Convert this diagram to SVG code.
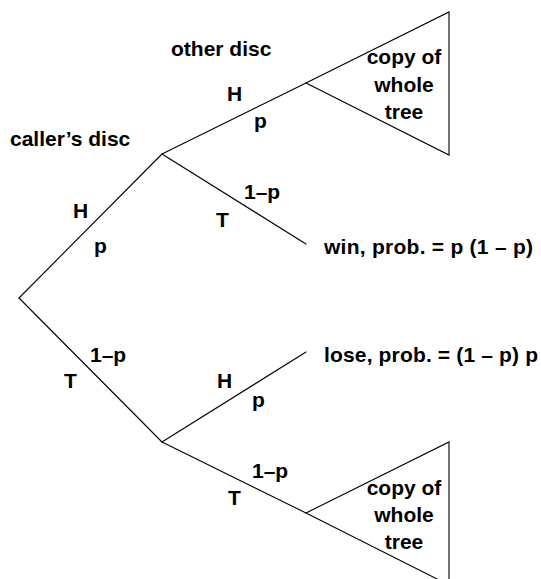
<svg xmlns="http://www.w3.org/2000/svg" width="541" height="579" viewBox="0 0 541 579">
  <style>
    .e { stroke: #000; stroke-width: 1.1; fill: none; stroke-linecap: round; }
    text { font-family: "Liberation Sans", Arial, sans-serif; font-weight: bold; font-size: 21px; fill: #000; }
    .m { text-anchor: middle; }
  </style>
  <rect width="541" height="579" fill="#fff"/>
  <g id="connectors">
    <line class="e" x1="19" y1="298" x2="162" y2="154"/>
    <line class="e" x1="19" y1="298" x2="162" y2="442"/>
    <line class="e" x1="162" y1="154" x2="306" y2="83"/>
    <line class="e" x1="162" y1="154" x2="306" y2="244"/>
    <line class="e" x1="162" y1="442" x2="306" y2="352"/>
    <line class="e" x1="162" y1="442" x2="306" y2="513"/>
  </g>
  <g id="subtree-top">
    <polygon class="e" points="306,83 449,12 449,155"/>
    <text class="m" x="404" y="64">copy of</text>
    <text class="m" x="404" y="92">whole</text>
    <text class="m" x="404" y="119">tree</text>
  </g>
  <g id="subtree-bottom">
    <polygon class="e" points="306,513 449,442 449,585"/>
    <text class="m" x="404" y="495">copy of</text>
    <text class="m" x="404" y="522">whole</text>
    <text class="m" x="404" y="549">tree</text>
  </g>
  <g id="headers">
    <text x="171" y="56">other disc</text>
    <text x="10" y="146">caller’s disc</text>
  </g>
  <g id="outcome-win">
    <text x="324" y="254" textLength="209">win, prob. = p (1 – p)</text>
  </g>
  <g id="outcome-lose">
    <text x="324" y="362" textLength="214">lose, prob. = (1 – p) p</text>
  </g>
  <g id="labels">
    <text x="73" y="218">H</text>
    <text x="94" y="253">p</text>
    <text x="64" y="388">T</text>
    <text x="90" y="362">1–p</text>
    <text x="227" y="101">H</text>
    <text x="254" y="128">p</text>
    <text x="244" y="199">1–p</text>
    <text x="216" y="227">T</text>
    <text x="217" y="388">H</text>
    <text x="252" y="407">p</text>
    <text x="252" y="478">1–p</text>
    <text x="228" y="505">T</text>
  </g>
</svg>
